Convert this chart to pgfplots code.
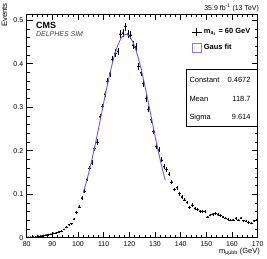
\documentclass[border=0pt]{standalone}
\usepackage{fontspec}
\setmainfont{Liberation Sans}
\usepackage{pgfplots}
\pgfplotsset{compat=1.18}
\usepackage{pgfplotstable}
\definecolor{fitblue}{RGB}{110,85,235}
\pgfplotstableread{
x y e
80.5 0.001 0.0004
81.5 0.001 0.0004
82.5 0.002 0.0006
83.5 0.002 0.0006
84.5 0.003 0.0007
85.5 0.004 0.0008
86.5 0.005 0.0009
87.5 0.006 0.0010
88.5 0.007 0.0011
89.5 0.008 0.0012
90.5 0.010 0.0013
91.5 0.011 0.0014
92.5 0.013 0.0015
93.5 0.015 0.0016
94.5 0.019 0.0018
95.5 0.024 0.0020
96.5 0.030 0.0023
97.5 0.032 0.0023
98.5 0.043 0.0027
99.5 0.058 0.0031
100.5 0.071 0.0035
101.5 0.091 0.0039
102.5 0.107 0.0043
103.5 0.134 0.0048
104.5 0.160 0.0052
105.5 0.172 0.0054
106.5 0.205 0.0059
107.5 0.220 0.0061
108.5 0.278 0.0069
109.5 0.301 0.0071
110.5 0.330 0.0075
111.5 0.359 0.0078
112.5 0.378 0.0080
113.5 0.410 0.0083
114.5 0.424 0.0085
115.5 0.428 0.0085
116.5 0.468 0.0089
117.5 0.470 0.0089
118.5 0.485 0.0091
119.5 0.468 0.0089
120.5 0.466 0.0089
121.5 0.443 0.0087
122.5 0.438 0.0086
123.5 0.393 0.0082
124.5 0.379 0.0080
125.5 0.355 0.0077
126.5 0.320 0.0074
127.5 0.295 0.0071
128.5 0.271 0.0068
129.5 0.244 0.0064
130.5 0.209 0.0059
131.5 0.202 0.0058
132.5 0.179 0.0055
133.5 0.163 0.0052
134.5 0.157 0.0052
135.5 0.146 0.0050
136.5 0.128 0.0047
137.5 0.111 0.0043
138.5 0.115 0.0044
139.5 0.101 0.0041
140.5 0.094 0.0040
141.5 0.087 0.0038
142.5 0.081 0.0037
143.5 0.069 0.0034
144.5 0.075 0.0036
145.5 0.067 0.0034
146.5 0.065 0.0033
147.5 0.061 0.0032
148.5 0.060 0.0032
149.5 0.060 0.0032
150.5 0.048 0.0028
151.5 0.052 0.0030
152.5 0.054 0.0030
153.5 0.055 0.0030
154.5 0.053 0.0030
155.5 0.051 0.0029
156.5 0.048 0.0028
157.5 0.045 0.0028
158.5 0.042 0.0027
159.5 0.040 0.0026
160.5 0.041 0.0026
161.5 0.044 0.0027
162.5 0.041 0.0026
163.5 0.045 0.0028
164.5 0.039 0.0026
165.5 0.038 0.0025
166.5 0.035 0.0024
167.5 0.033 0.0024
168.5 0.039 0.0026
169.5 0.040 0.0026
}\datatable
\begin{document}
\begin{tikzpicture}
\path[use as bounding box] (-26.7bp,-21.3bp) rectangle (240.3bp,237.7bp);
\begin{axis}[
  at={(0,0)}, anchor=south west,
  width=231bp, height=223.7bp, scale only axis,
  clip mode=individual,
  xmin=80, xmax=170, ymin=0, ymax=0.514,
  xtick={80,90,...,170}, minor x tick num=4,
  ytick={0,0.1,0.2,0.3,0.4,0.5}, minor y tick num=4,
  tick align=inside,
  major tick length=6bp, minor tick length=3bp,
  xtick pos=both, ytick pos=both,
  tick label style={font=\fontsize{7}{8}\selectfont},
  /pgf/number format/assume math mode=true,
  yticklabel style={/pgf/number format/fixed, /pgf/number format/precision=1},
  scaled y ticks=false,
  axis line style={line width=0.6pt},
  every tick/.style={black, line width=0.5pt},
  legend style={at={(axis description cs:0.712,0.945)}, anchor=north west,
    draw=none, fill=none, inner sep=0pt, row sep=5bp,
    font=\fontsize{7.5}{8.5}\selectfont\bfseries},
  legend cell align=left,
]
\addplot[black, only marks, mark=*, mark size=0.65pt,
  legend image code/.code={\draw[black,line width=0.5pt] (0bp,0bp)--(10bp,0bp) (5bp,-4bp)--(5bp,4bp);},
  error bars/.cd, x dir=both, x fixed=0.5, y dir=both, y explicit,
  error bar style={line width=0.55pt, black}, error mark=none]
  table[x=x, y=y, y error=e] {\datatable};
\addlegendentry{m\textsubscript{a\textsubscript{1}} = 60 GeV}
\addplot[fitblue, line width=0.9pt, smooth,
  legend image code/.code={\draw[fitblue!80,line width=0.6pt] (0.5bp,-4.5bp) rectangle (9.5bp,4.5bp);}]
  coordinates {
(102,0.1033)(103,0.1231)(104,0.1452)(105,0.1693)(106,0.1952)(107,0.2228)
(108,0.2515)(109,0.2808)(110,0.3102)(111,0.3390)(112,0.3665)(113,0.3919)
(114,0.4146)(115,0.4339)(116,0.4491)(117,0.4600)(118,0.4660)(118.7,0.4672)
(119,0.4670)(120,0.4630)(121,0.4540)(122,0.4405)(123,0.4227)(124,0.4013)
(125,0.3769)(126,0.3502)(127,0.3219)(128,0.2926)(129,0.2632)(130,0.2342)
(131,0.2061)(132,0.1795)(133,0.1546)(134,0.1317)};
\addlegendentry{Gaus fit}
\node[anchor=west, inner sep=0pt, font=\fontsize{9}{10}\selectfont\bfseries] at (axis description cs:0.040,0.951) {CMS};
\node[anchor=west, inner sep=0pt, text=black!75, font=\fontsize{7}{8}\selectfont\itshape] at (axis description cs:0.040,0.910) {DELPHES SIM};
\draw[line width=0.5pt, fill=white] (axis description cs:0.690,0.753) rectangle (axis description cs:1.0,0.496);
\node[anchor=west, inner sep=0pt, font=\fontsize{7.5}{8.5}\selectfont] at (axis description cs:0.704,0.705) {Constant};
\node[anchor=east, inner sep=0pt, font=\fontsize{7.5}{8.5}\selectfont] at (axis description cs:0.970,0.705) {0.4672};
\node[anchor=west, inner sep=0pt, font=\fontsize{7.5}{8.5}\selectfont] at (axis description cs:0.704,0.620) {Mean};
\node[anchor=east, inner sep=0pt, font=\fontsize{7.5}{8.5}\selectfont] at (axis description cs:0.970,0.620) {118.7};
\node[anchor=west, inner sep=0pt, font=\fontsize{7.5}{8.5}\selectfont] at (axis description cs:0.704,0.538) {Sigma};
\node[anchor=east, inner sep=0pt, font=\fontsize{7.5}{8.5}\selectfont] at (axis description cs:0.970,0.538) {9.614};
\node[anchor=base east, inner sep=0pt, font=\fontsize{7}{8}\selectfont] at (axis description cs:1.006,1.0166) {35.9 fb\textsuperscript{-1} (13 TeV)};
\node[anchor=base east, inner sep=0pt, font=\fontsize{7.5}{8.5}\selectfont] at (axis description cs:1.01,-0.0706) {m\textsubscript{μμbb} (GeV)};
\node[anchor=east, rotate=90, inner sep=0pt, font=\fontsize{7.8}{9}\selectfont] at (axis description cs:-0.096,1.049) {Events};
\end{axis}
\end{tikzpicture}
\end{document}
